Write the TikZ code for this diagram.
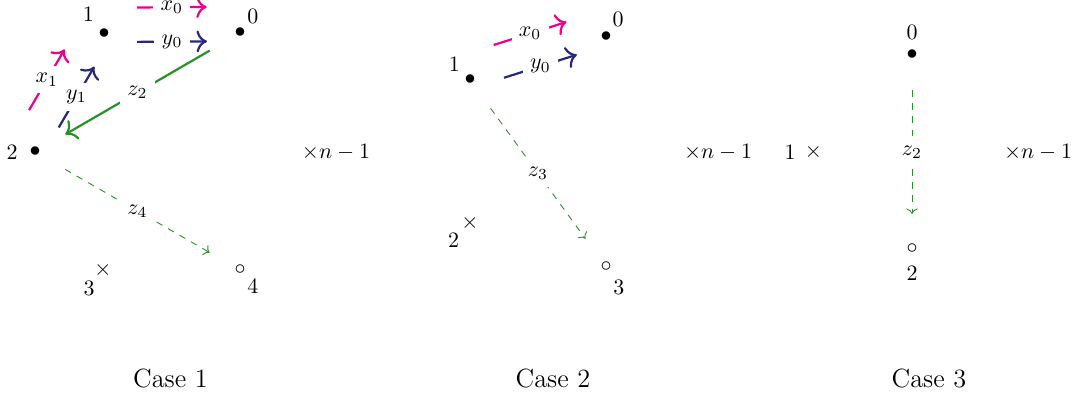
\documentclass[tikz,border=0pt]{standalone}
\usepackage{xcolor}
\usepackage{tikz}
\usetikzlibrary{arrows.meta, positioning, calc}
\definecolor{xpink}{RGB}{236,0,140}
\definecolor{ynavy}{RGB}{40,40,120}
\definecolor{zgreen}{RGB}{40,145,40}

\begin{document}
\begin{tikzpicture}[
    vtx/.style={inner sep=2.5pt},
    lbl/.style={inner sep=2.5pt},
    wt/.style={fill=white, text=black},
    casename/.style={font=\large},
    xarr/.style={-{To[scale=1.25]}, line width=1pt, xpink, shorten <=0.53cm, shorten >=0.53cm},
    yarr/.style={-{To[scale=1.25]}, line width=1pt, ynavy, shorten <=0.53cm, shorten >=0.53cm},
    zarr/.style={-{To[scale=1.25]}, line width=1pt, zgreen, shorten <=0.56cm, shorten >=0.56cm},
    zdash/.style={->, dashed, zgreen, shorten <=0.56cm, shorten >=0.56cm},
  ]
  \useasboundingbox (0,0) rectangle (17.296,-6.384);

  % --- case 1 ---
  \node[vtx, label={[lbl, label distance=-2.3pt]123:1}] (a1) at (1.664,-0.544) {$\bullet$};
  \node[vtx, label={[lbl, label distance=-4pt]63:0}]    (a0) at (3.84,-0.528)  {$\bullet$};
  \node[vtx, label={[lbl]180:2}]                        (a2) at (0.56,-2.432)  {$\bullet$};
  \node[vtx, label={[lbl, label distance=-4pt]245:3}]   (a3) at (1.648,-4.32)  {$\times$};
  \node[vtx, label={[lbl, label distance=-4pt]297:4}]   (a4) at (3.84,-4.32)   {$\circ$};
  \node (ar) at (5.376,-2.432) {$\times n-1$};
  \node[casename] (cap1) at (2.728,-6.064) {Case 1};

  % --- case 2 ---
  \node[vtx, label={[lbl, label distance=-3pt]82:0}]    (b0) at (9.696,-0.592) {$\bullet$};
  \node[vtx, label={[lbl, label distance=-4pt]146:1}]   (b1) at (7.52,-1.28)   {$\bullet$};
  \node[vtx, label={[lbl, label distance=-5.5pt]218:2}] (b2) at (7.52,-3.568)  {$\times$};
  \node[vtx, label={[lbl, label distance=-1.8pt]281:3}] (b3) at (9.696,-4.272) {$\circ$};
  \node (br) at (11.49,-2.432) {$\times n-1$};
  \node[casename] (cap2) at (8.848,-6.064) {Case 2};

  % --- case 3 ---
  \node[vtx, label={[lbl, label distance=-0.8pt]90:0}]  (c0) at (14.592,-0.88) {$\bullet$};
  \node[vtx, label={[lbl]270:2}]                        (c2) at (14.592,-3.984) {$\circ$};
  \node[vtx, label={[lbl, label distance=-1.1pt]180:1}] (c1) at (13.016,-2.432) {$\times$};
  \node (cr) at (16.61,-2.432) {$\times n-1$};
  \node[casename] (cap3) at (14.864,-6.064) {Case 3};

  % --- x and y moves, drawn beside the edge ---
  \foreach \p/\q/\t in {a1/a0/x_0, a2/a1/x_1, b1/b0/x_0} {
    \draw[xarr] ($(\p)!0.42cm!90:(\q)$) -- node[wt] {$\t$} ($(\q)!0.42cm!-90:(\p)$);
  }
  \foreach \p/\q/\t in {a1/a0/y_0, a2/a1/y_1, b1/b0/y_0} {
    \draw[yarr] ($(\p)!0.13cm!-90:(\q)$) -- node[wt] {$\t$} ($(\q)!0.13cm!90:(\p)$);
  }

  % --- z moves ---
  \draw[zarr]  (a0.center) -- node[wt] {$z_2$} (a2.center);
  \draw[zdash] (a2.center) -- node[wt] {$z_4$} (a4.center);
  \draw[zdash] (b1.center) -- node[wt] {$z_3$} (b3.center);
  \draw[zdash] (c0.center) -- node[wt] {$z_2$} (c2.center);
\end{tikzpicture}
\end{document}
